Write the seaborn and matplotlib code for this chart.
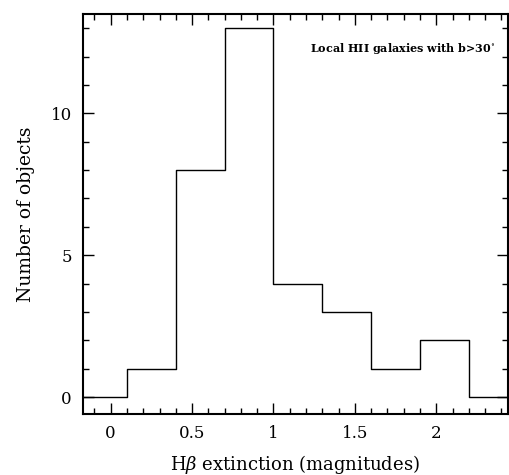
import matplotlib
matplotlib.use("Agg")
import matplotlib.pyplot as plt
import seaborn as sns
from matplotlib.ticker import MultipleLocator

bin_edges = [-0.2, 0.1, 0.4, 0.7, 1.0, 1.3, 1.6, 1.9, 2.2, 2.5]
counts = [0, 1, 8, 13, 4, 3, 1, 2, 0]
centers = [(a + b) / 2 for a, b in zip(bin_edges[:-1], bin_edges[1:])]
x_ticks = [0, 0.5, 1, 1.5, 2]
x_tick_labels = ["0", "0.5", "1", "1.5", "2"]
y_ticks = [0, 5, 10]

sns.set_style("ticks")
plt.rcParams['font.family'] = ['DejaVu Serif']
plt.rcParams['mathtext.fontset'] = 'dejavuserif'
plt.rcParams['text.color'] = 'black'
plt.rcParams['axes.labelcolor'] = 'black'
plt.rcParams['xtick.color'] = 'black'
plt.rcParams['ytick.color'] = 'black'

fig = plt.figure(figsize=(5.09, 4.75), dpi=100)
ax = fig.add_axes([0.163, 0.128, 0.835, 0.8425])

sns.histplot(x=centers, weights=counts, bins=bin_edges, element="step",
             fill=False, color="black", linewidth=1.0, ax=ax)

ax.set_xlim(-0.17, 2.44)
ax.set_ylim(-0.6, 13.5)
ax.set_xticks(x_ticks)
ax.set_xticklabels(x_tick_labels)
ax.set_yticks(y_ticks)
ax.xaxis.set_minor_locator(MultipleLocator(0.1))
ax.yaxis.set_minor_locator(MultipleLocator(1))
ax.tick_params(which="both", direction="in", top=True, right=True,
               labelsize=12, pad=8, width=1.0, color="black", labelcolor="black")
ax.tick_params(which="major", length=8)
ax.tick_params(which="minor", length=4)
for s in ax.spines.values():
    s.set_linewidth(1.5)
    s.set_color("black")

ax.set_xlabel(r"H$\beta$ extinction (magnitudes)", fontsize=13, labelpad=8, color="black")
ax.set_ylabel("Number of objects", fontsize=13.5, labelpad=11, color="black")
ax.text(0.97, 0.915, "Local HII galaxies with b>30$^{\\circ}$", transform=ax.transAxes,
        ha="right", va="center", fontsize=8, fontweight="bold", color="black")

fig.savefig("out.png", dpi=100)
